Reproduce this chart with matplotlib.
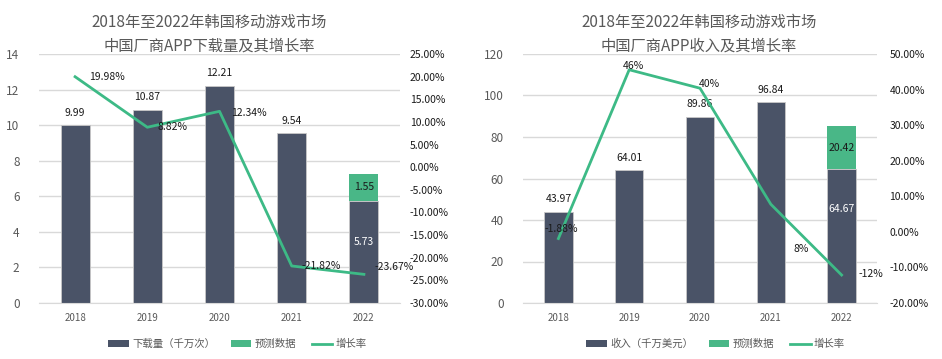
import matplotlib
matplotlib.use("Agg")
import matplotlib.pyplot as plt
from matplotlib.patches import Patch
from matplotlib.lines import Line2D
from matplotlib.ticker import FuncFormatter

plt.rcParams['font.family'] = ['Noto Sans CJK SC', 'DejaVu Sans']

years = ['2018', '2019', '2020', '2021', '2022']

# Left chart: downloads (千万次)
dl_actual = [9.99, 10.87, 12.21, 9.54, 5.73]
dl_forecast = [0, 0, 0, 0, 1.55]
dl_growth = [19.98, 8.82, 12.34, -21.82, -23.67]
dl_growth_labels = ['19.98%', '8.82%', '12.34%', '-21.82%', '-23.67%']

# Right chart: revenue (千万美元)
rev_actual = [43.97, 64.01, 89.86, 96.84, 64.67]
rev_forecast = [0, 0, 0, 0, 20.42]
rev_growth = [-1.88, 45.57, 40.38, 7.77, -12.13]
rev_growth_labels = ['-1.88%', '46%', '40%', '8%', '-12%']

titles = [['2018年至2022年韩国移动游戏市场', '中国厂商APP下载量及其增长率'],
          ['2018年至2022年韩国移动游戏市场', '中国厂商APP收入及其增长率']]
legend_labels = [['下载量（千万次）', '预测数据', '增长率'],
                 ['收入（千万美元）', '预测数据', '增长率']]

DARK = '#4a5367'
GREEN = '#49b787'
LINE = '#3dba86'
GRID = '#d9d9d9'
TICK = '#595959'

W, H = 942, 359
fig = plt.figure(figsize=(W / 100, H / 100), dpi=100)


def ax_rect(x0, x1, y0, y1):
    return [x0 / W, 1 - y1 / H, (x1 - x0) / W, (y1 - y0) / H]


configs = [
    dict(rect=(39, 400, 54, 303), ylim=(0, 14), yticks=range(0, 15, 2),
         y2lim=(-30, 25), y2ticks=range(-30, 26, 5), y2pad=7,
         actual=dl_actual, fc=dl_forecast, growth=dl_growth, glabels=dl_growth_labels,
         title_x=209, inner_frac=0.6,
         goffs=[(10, 0, 'left', 'center'), (7, 0, 'left', 'center'), (8, -1, 'left', 'center'),
                (7, 0, 'left', 'center'), (8, 5, 'left', 'center')],
         legend_x=108),
    dict(rect=(523, 877, 54, 303), ylim=(0, 120), yticks=range(0, 121, 20),
         y2lim=(-20, 50), y2ticks=range(-20, 51, 10), y2pad=9,
         actual=rev_actual, fc=rev_forecast, growth=rev_growth, glabels=rev_growth_labels,
         title_x=699, inner_frac=0.7,
         goffs=[(2, 7, 'center', 'center'), (3, 3, 'center', 'center'), (7, 3, 'center', 'center'),
                (22, -32, 'center', 'center'), (12, 1, 'left', 'center')],
         legend_x=586),
]

for k, cfg in enumerate(configs):
    x0, x1, y0, y1 = cfg['rect']
    ax = fig.add_axes(ax_rect(x0, x1, y0, y1))
    xs = list(range(len(years)))
    ax.bar(xs, cfg['actual'], width=0.4, color=DARK, edgecolor='#c8c8c8', linewidth=0.6, zorder=2)
    ax.bar(xs, cfg['fc'], width=0.4, bottom=cfg['actual'], color=GREEN, edgecolor='none', zorder=2)
    ax.set_xlim(-0.5, len(years) - 0.5)
    ax.set_ylim(*cfg['ylim'])
    ax.set_yticks(list(cfg['yticks']))
    ax.set_xticks(xs)
    ax.set_xticklabels(years)
    ax.grid(axis='y', color=GRID, linewidth=1, zorder=0)
    ax.set_axisbelow(True)
    for s in ['top', 'right', 'left']:
        ax.spines[s].set_visible(False)
    ax.spines['bottom'].set_color(GRID)
    ax.tick_params(axis='y', length=0, labelsize=8.5, labelcolor=TICK, pad=14)
    ax.tick_params(axis='x', length=0, labelsize=7, labelcolor=TICK, pad=7)

    # bar value labels
    for i, (a, f) in enumerate(zip(cfg['actual'], cfg['fc'])):
        if f > 0:
            ax.text(i, a * cfg['inner_frac'], f'{a:.2f}', ha='center', va='center',
                    fontsize=7.5, color='white', zorder=5)
            ax.text(i, a + f / 2, f'{f:.2f}', ha='center', va='center',
                    fontsize=7.5, color='#1a1a1a', zorder=5)
        else:
            ax.annotate(f'{a:.2f}', (i, a), xytext=(0, 9), textcoords='offset points',
                        ha='center', va='center', fontsize=7.5, color='#1a1a1a', zorder=5)

    ax2 = ax.twinx()
    ax2.plot(xs, cfg['growth'], color=LINE, linewidth=2, zorder=4)
    ax2.set_ylim(*cfg['y2lim'])
    ax2.set_yticks(list(cfg['y2ticks']))
    ax2.yaxis.set_major_formatter(FuncFormatter(lambda v, p: '{:.2f}%'.format(v)))
    for s in ['top', 'right', 'left', 'bottom']:
        ax2.spines[s].set_visible(False)
    ax2.tick_params(axis='y', length=0, labelsize=7.5, labelcolor='#1a1a1a', pad=cfg['y2pad'])
    for i, (g, lab) in enumerate(zip(cfg['growth'], cfg['glabels'])):
        dx, dy, ha, va = cfg['goffs'][i]
        ax2.annotate(lab, (i, g), xytext=(dx, dy), textcoords='offset points',
                     ha=ha, va=va, fontsize=7.5, color='#1a1a1a', zorder=6)

    fig.text(cfg['title_x'] / W, 1 - 22 / H, titles[k][0],
             ha='center', va='center', fontsize=11, color=TICK)
    fig.text(cfg['title_x'] / W, 1 - 46 / H, titles[k][1],
             ha='center', va='center', fontsize=11, color=TICK)

    handles = [Patch(facecolor=DARK, edgecolor='none'),
               Patch(facecolor=GREEN, edgecolor='none'),
               Line2D([0], [0], color=LINE, linewidth=2)]
    fig.legend(handles, legend_labels[k], loc='center left',
               bbox_to_anchor=(cfg['legend_x'] / W, 1 - 344 / H), ncol=3, frameon=False,
               fontsize=7.5, labelcolor=TICK, handlelength=2.0, handleheight=0.6,
               columnspacing=1.5, handletextpad=0.3, borderpad=0, borderaxespad=0)

fig.savefig('out.png', dpi=100)
